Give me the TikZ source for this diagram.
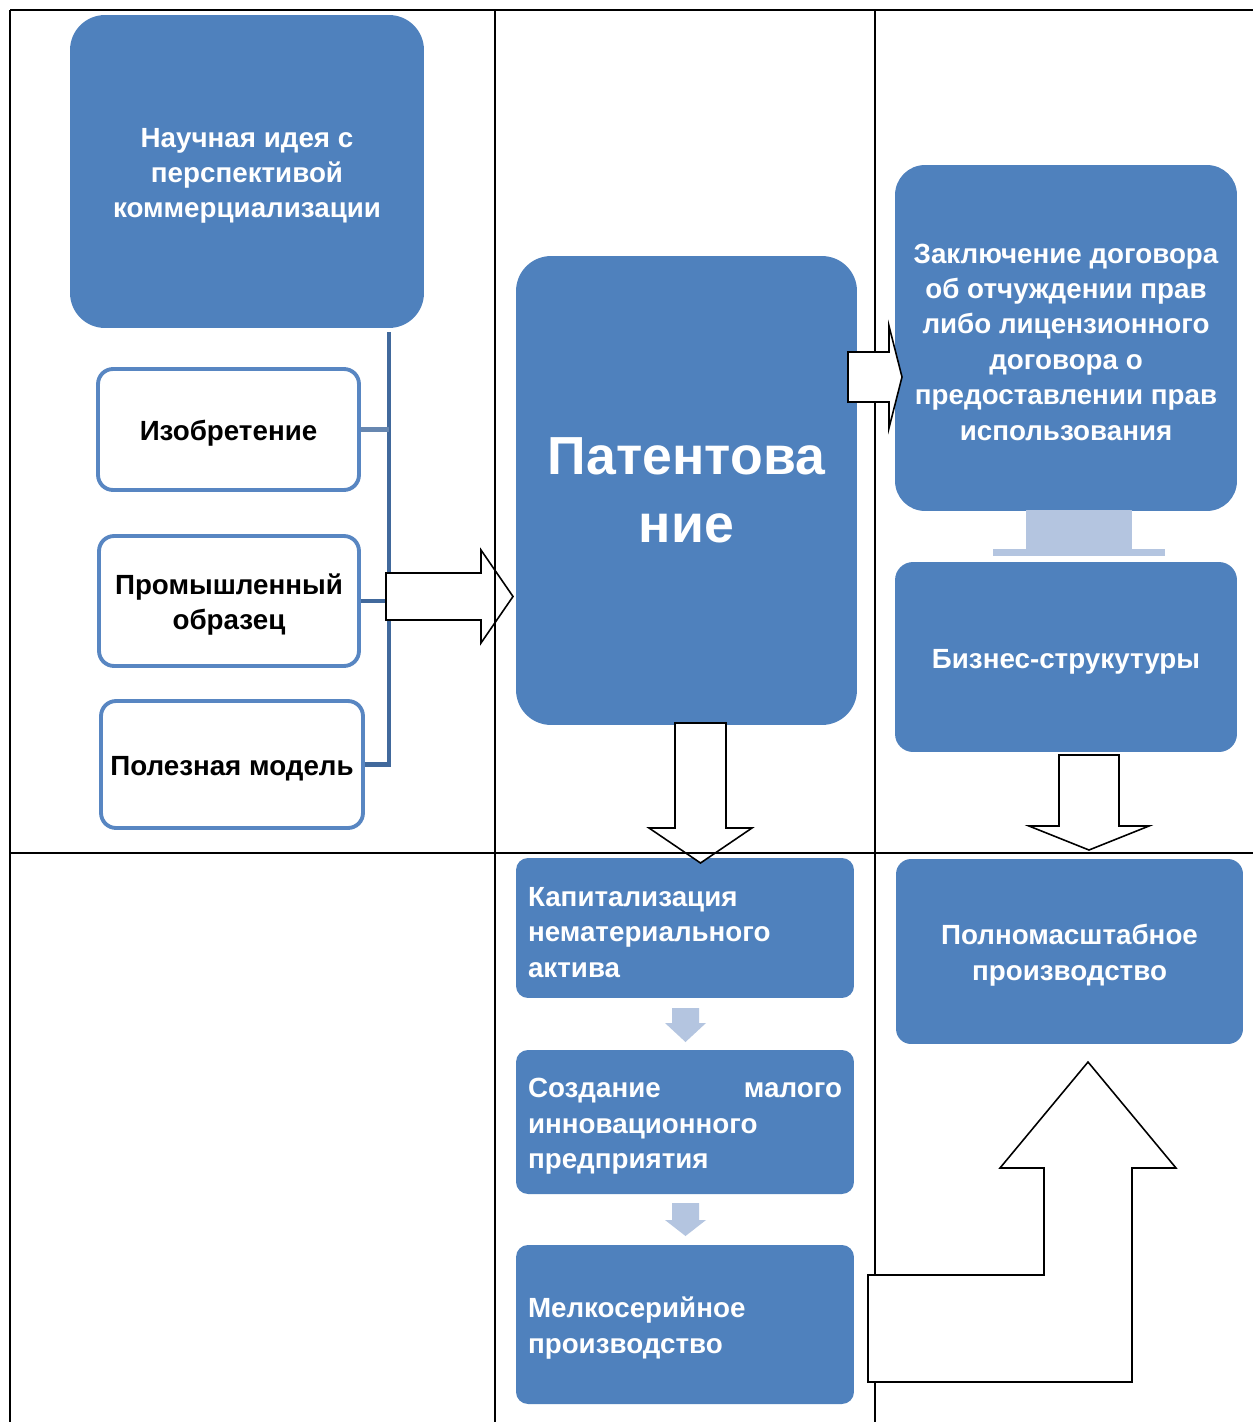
\documentclass[tikz,border=0pt]{standalone}
\usepackage{fontspec}
\setmainfont{Liberation Sans}
\definecolor{mainblue}{HTML}{4F81BD}
\definecolor{lightblue}{HTML}{B4C5E0}
\definecolor{edgeblue}{HTML}{5886C2}
\definecolor{busblue}{HTML}{41699C}
\newcommand{\txtlift}{\rule{0pt}{15.8pt}}
\begin{document}
\begin{tikzpicture}[x=0.02cm,y=-0.02cm,
  txt/.style={font=\bfseries\fontsize{15.8pt}{20.2pt}\selectfont},
  bluebox/.style={txt, fill=mainblue, draw=none, text=white, align=center, inner sep=0pt},
  whitebox/.style={txt, fill=white, draw=edgeblue, line width=2.2pt, rounded corners=0.3cm, text=black, align=center, inner sep=0pt},
  blockarrow/.style={draw=black, fill=white, line width=0.9pt, line join=miter},
  tableline/.style={draw=black, line width=1.2pt},
  smallarrow/.style={fill=lightblue, draw=none}]
\useasboundingbox (0,0) rectangle (1253,1422);
\fill[white] (0,0) rectangle (1253,1422);

% table lines (under shapes)
\draw[tableline] (10,10) -- (1253,10);
\draw[tableline] (10,10) -- (10,1422);
\draw[tableline] (875,10) -- (875,1422);

% left column
\node[bluebox, rounded corners=0.7cm, minimum width=7.08cm, minimum height=6.26cm] (idea) at (247,171.5)
  {\txtlift Научная идея с\\перспективой\\коммерциализации};
\node[whitebox, minimum width=5.22cm, minimum height=2.42cm] (inv) at (228.5,429.5) {\txtlift Изобретение};
\node[whitebox, minimum width=5.2cm, minimum height=2.6cm] (ind) at (229,601) {\txtlift Промышленный\\образец};
\node[whitebox, minimum width=5.24cm, minimum height=2.54cm] (util) at (232,764.5) {\txtlift Полезная модель};

\coordinate (bustop) at (389,332);
\coordinate (busbot) at (389,767);
\draw[busblue, line width=2.8pt] (bustop) -- (busbot);
\draw[busblue!80!white, line width=2.3pt] (inv.east) -- (inv.east -| bustop);
\draw[busblue, line width=2.3pt] (ind.east) -- (ind.east -| bustop);
\draw[busblue, line width=2.3pt] (util.east) -- (util.east -| bustop);

% middle column
\node[bluebox, rounded corners=0.7cm, minimum width=6.82cm, minimum height=9.38cm,
  font=\bfseries\fontsize{30.5pt}{38.7pt}\selectfont] (patent) at (686.5,490.5) {Патентова\\ние};

\node[bluebox, rounded corners=0.24cm, minimum width=6.76cm, minimum height=2.8cm, text width=6.28cm, align=left]
  (cap) at (685,928) {\txtlift Капитализация\\нематериального\\актива};
\node[bluebox, rounded corners=0.24cm, minimum width=6.76cm, minimum height=2.88cm, text width=6.28cm, align=left]
  (create) at (685,1122) {\txtlift Создание\hfill малого\\инновационного\\предприятия};
\node[bluebox, rounded corners=0.24cm, minimum width=6.76cm, minimum height=3.18cm, text width=6.28cm, align=left]
  (small) at (685,1324.5) {\txtlift Мелкосерийное\\производство};

\fill[smallarrow] (672,1008) -- (699,1008) -- (699,1023) -- (706,1023) -- (685.5,1042) -- (665,1023) -- (672,1023) -- cycle;
\fill[smallarrow] (672,1203) -- (699,1203) -- (699,1220) -- (706,1220) -- (685.5,1236) -- (665,1220) -- (672,1220) -- cycle;

% right column
\node[bluebox, rounded corners=0.6cm, minimum width=6.84cm, minimum height=6.92cm] (contract) at (1066,338)
  {\txtlift Заключение договора\\об отчуждении прав\\либо лицензионного\\договора о\\предоставлении прав\\использования};
\fill[lightblue] (1026,510) rectangle (1132,550);
\fill[lightblue] (993,549) rectangle (1165,556);
\node[bluebox, rounded corners=0.36cm, minimum width=6.84cm, minimum height=3.8cm] (business) at (1066,657) {\txtlift Бизнес-струкутуры};
\node[bluebox, rounded corners=0.3cm, minimum width=6.94cm, minimum height=3.7cm] (full) at (1069.5,951.5) {\txtlift Полномасштабное\\производство};

% block arrows
\draw[blockarrow] (386,573) -- (481,573) -- (481,550) -- (513,596.5) -- (481,643) -- (481,620) -- (386,620) -- cycle;
\draw[blockarrow] (848,352) -- (889,352) -- (889,326) -- (902,377) -- (889,428) -- (889,402) -- (848,402) -- cycle;
\draw[blockarrow] (675,723) -- (726,723) -- (726,828) -- (752,828) -- (700.5,863) -- (649,828) -- (675,828) -- cycle;
\draw[blockarrow] (1059,755) -- (1119,755) -- (1119,826) -- (1149,826) -- (1089,850) -- (1029,826) -- (1059,826) -- cycle;
\draw[blockarrow] (1088,1062) -- (1176,1168) -- (1132,1168) -- (1132,1382) -- (868,1382) -- (868,1275)
  -- (1044,1275) -- (1044,1168) -- (1000,1168) -- cycle;

% table lines drawn over shapes
\draw[tableline] (495,10) -- (495,1422);
\draw[tableline] (10,853) -- (1253,853);
\end{tikzpicture}
\end{document}
